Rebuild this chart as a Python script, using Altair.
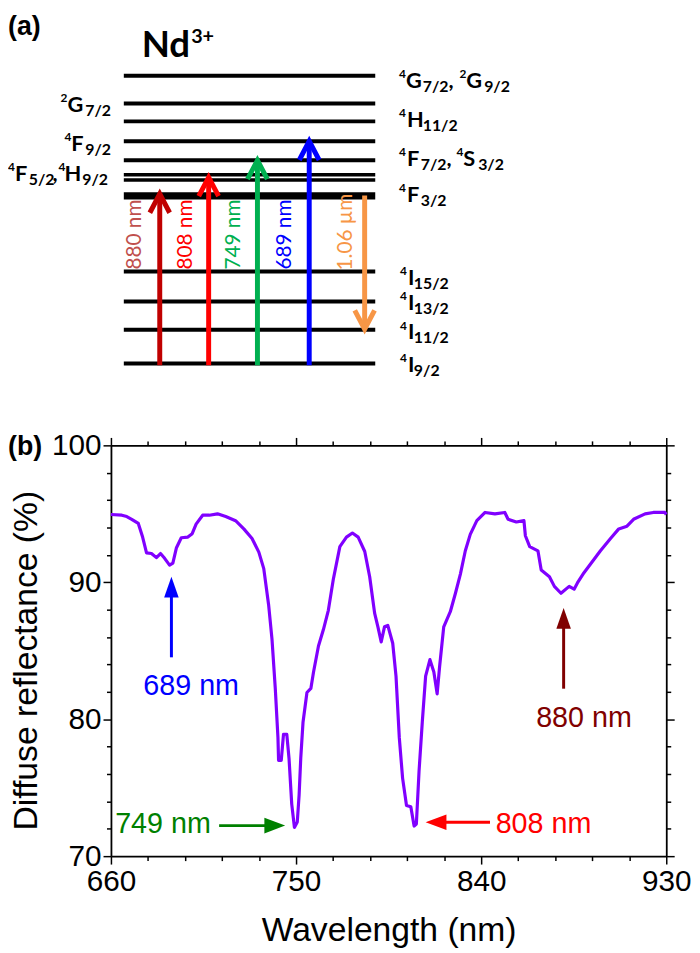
import altair as alt
import pandas as pd

# ---------------- Panel (b): diffuse reflectance spectrum ----------------
wavelength = [660.0, 665.3, 667.7, 670.1, 673.3, 675.4, 677.3, 679.7, 682.1, 684.1,
              686.1, 688.5, 690.1, 691.8, 694.2, 697.4, 699.5, 701.4, 704.6, 707.8,
              711.8, 715.8, 720.6, 724.6, 728.6, 731.9, 734.3, 736.7, 738.3, 739.9,
              741.2, 741.5, 742.8, 743.9, 745.5, 746.6, 747.9, 749.2, 750.6, 751.5,
              752.3, 753.4, 755.3, 757.2, 758.5, 760.9, 763.3, 765.7, 768.1, 771.3,
              774.5, 777.4, 780.2, 783.4, 785.8, 788.2, 789.8, 791.4, 793.0, 794.6,
              797.0, 798.6, 800.2, 801.8, 803.7, 805.8, 807.4, 808.5, 809.8, 811.4,
              813.0, 815.1, 817.0, 818.6, 819.8, 821.8, 825.0, 827.5, 829.9, 832.3,
              834.7, 837.9, 841.9, 846.7, 851.5, 853.1, 857.1, 860.8, 861.5, 863.6,
              867.6, 869.2, 873.2, 875.6, 878.8, 882.8, 885.2, 886.8, 890.0, 894.0,
              898.0, 902.9, 906.9, 910.9, 914.1, 919.7, 923.7, 929.3, 930.0]
reflectance = [94.95, 94.9, 94.8, 94.6, 94.3, 93.3, 92.15, 92.1, 91.8, 92.1,
               91.75, 91.25, 91.4, 92.5, 93.25, 93.3, 93.55, 94.25, 94.9, 94.9,
               95.0, 94.8, 94.5, 93.9, 93.2, 92.2, 91.0, 88.3, 85.85, 82.25,
               78.65, 77.0, 77.0, 78.9, 78.9, 77.1, 73.8, 72.1, 72.5, 74.5,
               77.2, 79.8, 81.95, 82.25, 83.45, 85.35, 86.55, 87.95, 90.2, 92.6,
               93.3, 93.6, 93.3, 92.25, 90.4, 87.75, 86.75, 85.65, 86.75, 86.85,
               85.55, 83.15, 78.65, 75.7, 73.7, 73.6, 72.2, 72.35, 76.2, 79.85,
               83.15, 84.35, 83.45, 81.85, 83.85, 86.75, 87.85, 89.2, 90.6, 92.3,
               93.5, 94.5, 95.1, 95.0, 95.1, 94.6, 94.4, 94.5, 93.4, 92.6,
               92.3, 90.9, 90.4, 89.7, 89.2, 89.7, 89.5, 89.95, 90.7, 91.5,
               92.3, 93.2, 93.9, 94.1, 94.6, 95.0, 95.1, 95.1, 94.95]

x_ticks = list(range(660, 931, 18))
y_ticks = list(range(70, 101, 2))

b_labels = ["689 nm", "749 nm", "808 nm", "880 nm"]
b_colors = ["#0000ff", "#008000", "#ff0000", "#800000"]
b_dir = ["up", "right", "left", "up"]
b_tail_x = [689.4, 712.6, 844.3, 880.1]
b_tail_y = [84.52, 72.23, 72.47, 82.23]
b_tip_x = [689.4, 744.7, 813.0, 880.1]
b_tip_y = [90.41, 72.23, 72.47, 88.13]
b_text_x = [699.0, 685.3, 870.3, 890.0]
b_text_y = [81.74, 71.7, 71.7, 79.46]

# ---------------- Panel (a): Nd3+ energy level diagram (diagram units) ----------------
level_y = [70.7, 98.7, 116.7, 136.7, 156.0, 170.7, 176.0, 192.0, 268.3, 298.7, 327.3, 361.3]
level_w = [4, 4, 4, 4, 4, 3.5, 3.5, 7.5, 4, 4, 4, 4]
level_x0 = 125
level_x1 = 379

a_labels = ["880 nm", "808 nm", "749 nm", "689 nm", "1.06 µm"]
a_arrow_x = [161.3, 210.7, 260.0, 312.3, 368.3]
a_arrow_from = [363.0, 363.0, 363.0, 363.0, 191.7]
a_arrow_to = [190.0, 173.3, 156.0, 136.7, 326.7]
a_arrow_color = ["#c00000", "#ff0000", "#00b050", "#0000ff", "#f79646"]
a_text_color = ["#c0504d", "#ff0000", "#00b050", "#0000ff", "#f79646"]
a_text_x = [136.7, 187.5, 236.0, 287.5, 349.5]
a_text_y = [231.0, 231.0, 231.0, 231.0, 228.5]

# term symbol pieces: text, x (left), baseline y, role
term_text = ["4", "G", "7/2", ",", "2", "G", "9/2",
             "4", "H", "11/2",
             "4", "F", "7/2", ",", "4", "S", "3/2",
             "4", "F", "3/2",
             "4", "I", "15/2",
             "4", "I", "13/2",
             "4", "I", "11/2",
             "4", "I", "9/2",
             "2", "G", "7/2",
             "4", "F", "9/2",
             "4", "F", "5/2", ",", "4", "H", "9/2",
             "Nd", "3+"]
term_x = [403, 410, 427, 453, 464, 471, 489,
          403, 411, 427,
          403, 411, 425, 451, 461, 468, 483,
          403, 411, 425,
          404, 412, 418,
          404, 412, 418,
          404, 412, 418,
          404, 412, 418,
          61, 68, 86,
          65, 72, 86,
          8, 15, 29, 53, 59, 65, 83,
          143, 193]
term_y = [73, 83, 87, 83, 73, 83, 87,
          112, 122, 126,
          152, 162, 166, 162, 152, 162, 166,
          188, 198, 202,
          272, 282, 286,
          297, 307, 311,
          327, 337, 341,
          360, 370, 374,
          97, 107, 111,
          137, 147, 151,
          167, 177, 181, 177, 167, 177, 181,
          52, 38]
term_role = ["sup", "main", "sub", "main", "sup", "main", "sub",
             "sup", "main", "sub",
             "sup", "main", "sub", "main", "sup", "main", "sub",
             "sup", "main", "sub",
             "sup", "main", "sub",
             "sup", "main", "sub",
             "sup", "main", "sub",
             "sup", "main", "sub",
             "sup", "main", "sub",
             "sup", "main", "sub",
             "sup", "main", "sub", "main", "sup", "main", "sub",
             "title", "titlesup"]
role_size = {"sup": 12, "sub": 16, "main": 22, "title": 37, "titlesup": 20}

# ---------------- Panel (a) chart ----------------
XA = alt.Scale(domain=[112, 673], nice=False, zero=False)
YA = alt.Scale(domain=[8, 444], nice=False, zero=False, reverse=True)

lv = pd.DataFrame({"y": level_y, "w": level_w, "x0": level_x0, "x1": level_x1})
levels = alt.Chart(lv).mark_rule(color="black", strokeCap="butt").encode(
    x=alt.X("x0:Q", scale=XA, axis=None), x2="x1:Q",
    y=alt.Y("y:Q", scale=YA, axis=None),
    strokeWidth=alt.StrokeWidth("w:Q", scale=None),
)

ar = pd.DataFrame({"name": a_labels, "x": a_arrow_x, "y0": a_arrow_from,
                   "y1": a_arrow_to, "color": a_arrow_color})
ar["dir"] = [1 if t < f else -1 for f, t in zip(a_arrow_from, a_arrow_to)]
ar["yend"] = ar["y1"] + ar["dir"] * 3
shafts = alt.Chart(ar).mark_rule(strokeWidth=5, strokeCap="butt").encode(
    x=alt.X("x:Q", scale=XA, axis=None),
    y=alt.Y("y0:Q", scale=YA, axis=None), y2="yend:Q",
    color=alt.Color("color:N", scale=None),
)

rows = []
for _, r in ar.iterrows():
    rows.append({"name": r["name"], "o": 0, "x": r["x"] - 10, "y": r["y1"] + r["dir"] * 19, "color": r["color"]})
    rows.append({"name": r["name"], "o": 1, "x": r["x"], "y": r["y1"], "color": r["color"]})
    rows.append({"name": r["name"], "o": 2, "x": r["x"] + 10, "y": r["y1"] + r["dir"] * 19, "color": r["color"]})
chev = pd.DataFrame(rows)
heads = alt.Chart(chev).mark_line(strokeWidth=5, strokeJoin="miter", strokeCap="butt").encode(
    x=alt.X("x:Q", scale=XA, axis=None),
    y=alt.Y("y:Q", scale=YA, axis=None),
    detail="name:N", order="o:Q",
    color=alt.Color("color:N", scale=None),
)

at = pd.DataFrame({"t": a_labels, "x": a_text_x, "y": a_text_y, "color": a_text_color})
arrow_text = alt.Chart(at).mark_text(angle=270, align="center", baseline="middle",
                                     font="Lato", fontSize=21).encode(
    x=alt.X("x:Q", scale=XA, axis=None),
    y=alt.Y("y:Q", scale=YA, axis=None),
    text="t:N",
    color=alt.Color("color:N", scale=None),
)

tp = pd.DataFrame({"t": term_text, "x": term_x, "y": term_y, "role": term_role})
tp["fs"] = [role_size[r] for r in term_role]
terms = alt.Chart(tp).mark_text(align="left", baseline="alphabetic", font="Lato",
                                fontWeight="bold", color="black").encode(
    x=alt.X("x:Q", scale=XA, axis=None),
    y=alt.Y("y:Q", scale=YA, axis=None),
    text="t:N",
    size=alt.Size("fs:Q", scale=None),
)

tag_a = alt.Chart(pd.DataFrame({"t": ["(a)"], "x": [8], "y": [29]})).mark_text(
    align="left", baseline="alphabetic", font="Liberation Sans", fontWeight="bold",
    fontSize=27, color="black").encode(
    x=alt.X("x:Q", scale=XA, axis=None),
    y=alt.Y("y:Q", scale=YA, axis=None),
    text="t:N",
)

panel_a = alt.layer(levels, shafts, heads, arrow_text, terms, tag_a).properties(
    width=561, height=436)

# ---------------- Panel (b) chart ----------------
XB = alt.Scale(domain=[660, 930], nice=False, zero=False)
YB = alt.Scale(domain=[70, 100], nice=False, zero=False)

xmaj = "(datum.value - 660) % 90 === 0"
ymaj = "datum.value % 10 === 0"

axis_common = dict(
    grid=False, domainColor="black", domainWidth=1.8, tickColor="black", tickWidth=1.5,
    labelFont="Liberation Sans", labelFontSize=30, labelColor="black",
    labelFlush=False, labelOverlap=False,
    titleFont="Liberation Sans", titleFontWeight="normal", titleColor="black",
)


def x_axis(orient, labels):
    return alt.Axis(orient=orient, values=x_ticks, labels=labels,
                    labelExpr=f"{xmaj} ? datum.label : ''",
                    tickSize={"condition": {"test": xmaj, "value": 8}, "value": 4.5},
                    labelPadding=3, title="Wavelength (nm)" if labels else "",
                    titleFontSize=34, titlePadding=17, **axis_common)


def y_axis(orient, labels):
    extra = {"titleY": 217} if labels else {}
    return alt.Axis(orient=orient, values=y_ticks, labels=labels,
                    labelExpr=f"{ymaj} ? datum.label : ''",
                    tickSize={"condition": {"test": ymaj, "value": 8}, "value": 4.5},
                    labelPadding=2, title="Diffuse reflectance (%)" if labels else "",
                    titleFontSize=34, titlePadding=8, **extra, **axis_common)


spec = pd.DataFrame({"wl": wavelength, "r": reflectance})
line = alt.Chart(spec).mark_line(color="#8000ff", strokeWidth=3.2, strokeJoin="round").encode(
    x=alt.X("wl:Q", scale=XB, axis=x_axis("bottom", True)),
    y=alt.Y("r:Q", scale=YB, axis=y_axis("left", True)),
)
mirror = alt.Chart(spec).mark_line(opacity=0).encode(
    x=alt.X("wl:Q", scale=XB, axis=x_axis("top", False)),
    y=alt.Y("r:Q", scale=YB, axis=y_axis("right", False)),
)

ba = pd.DataFrame({"t": b_labels, "color": b_colors, "dir": b_dir,
                   "tx": b_tail_x, "ty": b_tail_y, "hx": b_tip_x, "hy": b_tip_y,
                   "lx": b_text_x, "ly": b_text_y})
ba["ex"] = [hx - 5 if d == "right" else (hx + 5 if d == "left" else hx)
            for hx, d in zip(b_tip_x, b_dir)]
ba["ey"] = [hy - 0.75 if d == "up" else hy for hy, d in zip(b_tip_y, b_dir)]

b_shafts = alt.Chart(ba).mark_rule(strokeWidth=3, strokeCap="butt").encode(
    x=alt.X("tx:Q", scale=XB, axis=None), x2="ex:Q",
    y=alt.Y("ty:Q", scale=YB, axis=None), y2="ey:Q",
    color=alt.Color("color:N", scale=None),
)

head_shapes = {
    "up": "M0,0L0.7,2L-0.7,2Z",
    "right": "M0,0L-2,-0.75L-2,0.75Z",
    "left": "M0,0L2,-0.75L2,0.75Z",
}
b_heads = []
for d, shp in head_shapes.items():
    b_heads.append(
        alt.Chart(ba).transform_filter(alt.datum.dir == d).mark_point(
            shape=shp, size=441, filled=True, opacity=1, strokeWidth=0).encode(
            x=alt.X("hx:Q", scale=XB, axis=None),
            y=alt.Y("hy:Q", scale=YB, axis=None),
            color=alt.Color("color:N", scale=None),
        )
    )

b_text = alt.Chart(ba).mark_text(align="center", baseline="alphabetic",
                                 font="Liberation Sans", fontSize=29).encode(
    x=alt.X("lx:Q", scale=XB, axis=None),
    y=alt.Y("ly:Q", scale=YB, axis=None),
    text="t:N",
    color=alt.Color("color:N", scale=None),
)

tag_b = alt.Chart(pd.DataFrame({"t": ["(b)"], "x": [610.0], "y": [99.3]})).mark_text(
    align="left", baseline="alphabetic", font="Liberation Sans", fontWeight="bold",
    fontSize=27, color="black").encode(
    x=alt.X("x:Q", scale=XB, axis=None),
    y=alt.Y("y:Q", scale=YB, axis=None),
    text="t:N",
)

panel_b = alt.layer(line, mirror, b_shafts, *b_heads, b_text, tag_b).resolve_axis(
    x="independent", y="independent").properties(width=561, height=415)

chart = alt.vconcat(panel_a, panel_b, spacing=0, bounds="flush").properties(
    padding=0, background="white").configure_view(stroke=None)

chart.save("out.html", embed_options={"renderer": "svg", "actions": False})
